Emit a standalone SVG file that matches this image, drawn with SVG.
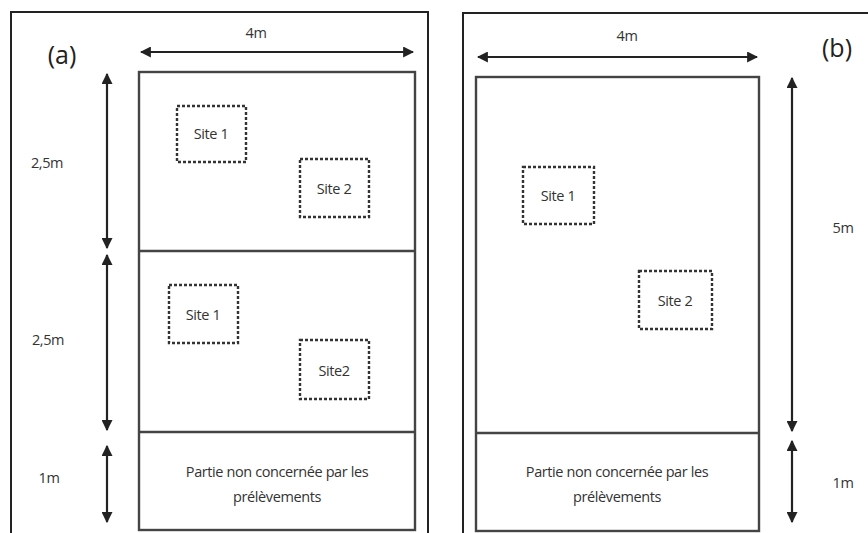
<svg xmlns="http://www.w3.org/2000/svg" width="868" height="533" viewBox="0 0 868 533">
  <style>
    .frame { fill: none; stroke: #222; stroke-width: 2; }
    .plot { fill: none; stroke: #444; stroke-width: 2.4; }
    .site { fill: none; stroke: #333; stroke-width: 2.4; stroke-dasharray: 3 2; }
    .dim { stroke: #222; stroke-width: 2.2; fill: none; }
    .lbl { font-family: "Open Sans", "Liberation Sans", sans-serif; font-size: 14.5px; fill: #333; text-anchor: middle; letter-spacing: -0.4px; }
    .tag { font-family: "Open Sans", "Liberation Sans", sans-serif; font-size: 25px; fill: #222; text-anchor: middle; }
  </style>
  <defs>
    <marker id="arr" viewBox="0 0 10 10" refX="9" refY="5" markerWidth="5" markerHeight="5" orient="auto-start-reverse" markerUnits="strokeWidth">
      <path d="M0,0 L10,5 L0,10 z" fill="#222"/>
    </marker>
  </defs>
  <rect width="868" height="533" fill="#fff"/>

  <!-- panel (a) -->
  <g id="panel-a">
    <path class="frame" d="M11,540 V12 H428 V540"/>
    <text class="tag" x="62" y="64">(a)</text>
  </g>
  <g id="plot-a">
    <rect class="plot" x="139" y="72" width="276" height="458"/>
    <line class="plot" x1="139" y1="251" x2="415" y2="251"/>
    <line class="plot" x1="139" y1="432" x2="415" y2="432"/>
    <text class="lbl" x="277" y="477">Partie non concernée par les</text>
    <text class="lbl" x="277" y="502">prélèvements</text>
  </g>
  <g id="a-upper-site1">
    <rect class="site" x="177" y="106" width="69" height="56"/>
    <text class="lbl" x="211" y="139">Site 1</text>
  </g>
  <g id="a-upper-site2">
    <rect class="site" x="300" y="159" width="69" height="58"/>
    <text class="lbl" x="334" y="194">Site 2</text>
  </g>
  <g id="a-lower-site1">
    <rect class="site" x="169" y="285" width="69" height="58"/>
    <text class="lbl" x="203" y="320">Site 1</text>
  </g>
  <g id="a-lower-site2">
    <rect class="site" x="300" y="340" width="69" height="59"/>
    <text class="lbl" x="334" y="376">Site2</text>
  </g>
  <g id="a-dims">
    <text class="lbl" x="256" y="38">4m</text>
    <text class="lbl" x="47" y="168">2,5m</text>
    <text class="lbl" x="48" y="345">2,5m</text>
    <text class="lbl" x="49" y="483">1m</text>
  </g>

  <!-- panel (b) -->
  <g id="panel-b">
    <path class="frame" d="M463,540 V13 H870"/>
    <text class="tag" x="837" y="57">(b)</text>
  </g>
  <g id="plot-b">
    <rect class="plot" x="476" y="77" width="283" height="454"/>
    <line class="plot" x1="476" y1="433" x2="759" y2="433"/>
    <text class="lbl" x="617" y="477">Partie non concernée par les</text>
    <text class="lbl" x="617" y="502">prélèvements</text>
  </g>
  <g id="b-site1">
    <rect class="site" x="523" y="167" width="71" height="57"/>
    <text class="lbl" x="558" y="201">Site 1</text>
  </g>
  <g id="b-site2">
    <rect class="site" x="639" y="271" width="73" height="58"/>
    <text class="lbl" x="675" y="306">Site 2</text>
  </g>
  <g id="b-dims">
    <text class="lbl" x="627" y="41">4m</text>
    <text class="lbl" x="843" y="233">5m</text>
    <text class="lbl" x="843" y="488">1m</text>
  </g>

  <!-- dimension arrows -->
  <g id="connectors">
    <line class="dim" x1="141" y1="52" x2="413" y2="52" marker-start="url(#arr)" marker-end="url(#arr)"/>
    <line class="dim" x1="107" y1="74" x2="107" y2="248" marker-start="url(#arr)" marker-end="url(#arr)"/>
    <line class="dim" x1="107" y1="255" x2="107" y2="430" marker-start="url(#arr)" marker-end="url(#arr)"/>
    <line class="dim" x1="107" y1="446" x2="107" y2="522" marker-start="url(#arr)" marker-end="url(#arr)"/>
    <line class="dim" x1="478" y1="57" x2="757" y2="57" marker-start="url(#arr)" marker-end="url(#arr)"/>
    <line class="dim" x1="792" y1="78" x2="792" y2="431" marker-start="url(#arr)" marker-end="url(#arr)"/>
    <line class="dim" x1="792" y1="441" x2="792" y2="522" marker-start="url(#arr)" marker-end="url(#arr)"/>
  </g>
</svg>
